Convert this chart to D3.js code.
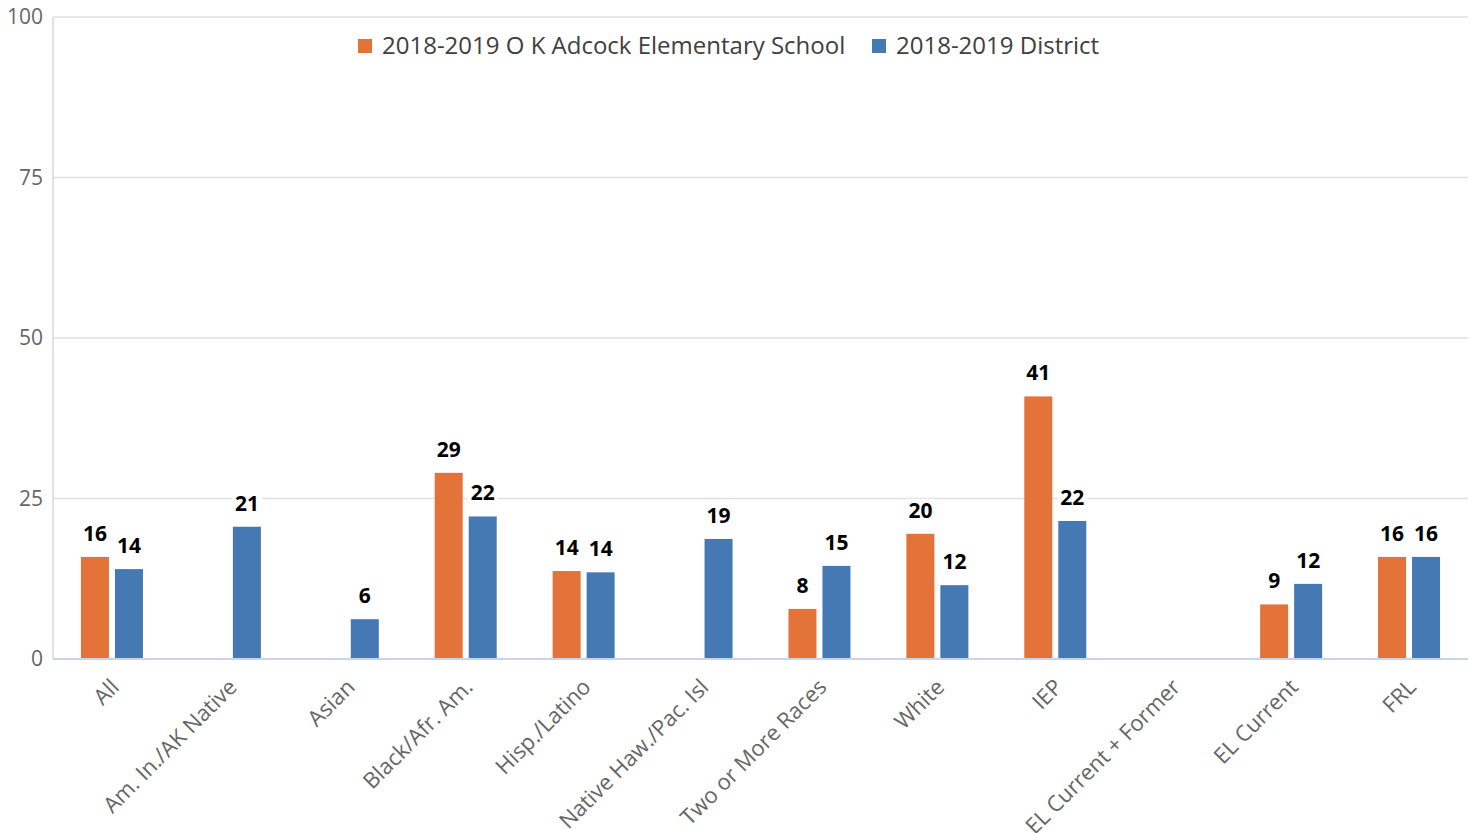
<!DOCTYPE html>
<html>
<head>
<meta charset="utf-8">
<script src="https://cdn.jsdelivr.net/npm/d3@7"></script>
<style>
  body { margin: 0; background: #fff; }
  svg { font-family: "Open Sans", sans-serif; }
</style>
</head>
<body>
<script>
// data
var categories = ['All', 'Am. In./AK Native', 'Asian', 'Black/Afr. Am.', 'Hisp./Latino',
	'Native Haw./Pac. Isl', 'Two or More Races', 'White', 'IEP', 'EL Current + Former',
	'EL Current', 'FRL'];
var schoolValues = [15.9, null, null, 29.0, 13.7, null, 7.8, 19.5, 40.9, null, 8.5, 15.9];
var districtValues = [14.0, 20.6, 6.2, 22.2, 13.5, 18.7, 14.5, 11.5, 21.5, null, 11.7, 15.9];
var seriesNames = ['2018-2019 O K Adcock Elementary School', '2018-2019 District'];
var yTicks = [0, 25, 50, 75, 100];

var colors = ['#E4733A', '#4479B3'];

// svg margin and size
var margin = {top: 17, right: 7, bottom: 174, left: 53};
var width = 1475 - margin.left - margin.right,
	height = 833 - margin.top - margin.bottom;

var svg = d3.select('body').append('svg')
		.attr('width', 1475)
		.attr('height', 833)
	.append('g')
		.attr('transform', 'translate(' + margin.left + ',' + margin.top + ')');

var x = d3.scaleBand().domain(categories).range([0, width]);
var y = d3.scaleLinear().domain([0, 100]).range([height, 0]);

var barW = 28, gap = 6;

// gridlines
svg.selectAll('.grid')
	.data(yTicks.filter(function(d) { return d > 0; }))
	.enter().append('line')
	.attr('x1', 0).attr('x2', width)
	.attr('y1', function(d) { return y(d); })
	.attr('y2', function(d) { return y(d); })
	.style('stroke', '#e0e0e0')
	.style('stroke-width', 1.5);

// left axis line
svg.append('line')
	.attr('x1', 0).attr('x2', 0)
	.attr('y1', 0).attr('y2', height)
	.style('stroke', '#d9d9d9')
	.style('stroke-width', 1.5);

// y tick labels
svg.selectAll('.ytick')
	.data(yTicks)
	.enter().append('text')
	.attr('x', -10)
	.attr('y', function(d) { return y(d); })
	.attr('dy', '0.35em')
	.attr('text-anchor', 'end')
	.style('font-size', '21px')
	.style('fill', '#666')
	.text(function(d) { return d; });

// bars
var series = [schoolValues, districtValues];
var barData = [];
series.forEach(function(vals, s) {
	vals.forEach(function(v, i) {
		if (v === null) return;
		barData.push({cat: categories[i], s: s, v: v});
	});
});

function barX(d) {
	var c = x(d.cat) + x.bandwidth() / 2;
	return d.s === 0 ? c - gap / 2 - barW : c + gap / 2;
}

svg.selectAll('.bar')
	.data(barData)
	.enter().append('rect')
	.attr('class', 'bar')
	.attr('x', barX)
	.attr('width', barW)
	.attr('y', function(d) { return y(d.v); })
	.attr('height', function(d) { return height - y(d.v); })
	.style('fill', function(d) { return colors[d.s]; });

// x axis line
svg.append('line')
	.attr('x1', 0).attr('x2', width)
	.attr('y1', height).attr('y2', height)
	.style('stroke', '#c9d4e8')
	.style('stroke-width', 2);

// data labels with white background
var lbl = svg.selectAll('.lbl')
	.data(barData)
	.enter().append('g')
	.attr('transform', function(d) {
		return 'translate(' + (barX(d) + barW / 2) + ',' + (y(d.v) - 16) + ')';
	});

lbl.append('rect')
	.attr('x', -15).attr('y', -19)
	.attr('width', 30).attr('height', 23)
	.style('fill', '#fff');

lbl.append('text')
	.attr('text-anchor', 'middle')
	.style('font-size', '21px')
	.style('font-weight', 'bold')
	.style('fill', '#000')
	.text(function(d) { return Math.round(d.v); });

// x labels
svg.selectAll('.xlabel')
	.data(categories)
	.enter().append('text')
	.attr('transform', function(d) {
		return 'translate(' + (x(d) + x.bandwidth() / 2 + 3) + ',' + (height + 24) + ') rotate(-45)';
	})
	.attr('text-anchor', 'end')
	.attr('dy', '0.35em')
	.style('font-size', '22px')
	.style('fill', '#666')
	.text(function(d) { return d; });

// legend
var legend = svg.append('g')
	.attr('transform', 'translate(' + (358 - margin.left) + ',' + (39 - margin.top) + ')');
var lx = [0, 514];
seriesNames.forEach(function(n, i) {
	legend.append('rect')
		.attr('x', lx[i]).attr('y', 0)
		.attr('width', 14).attr('height', 14)
		.style('fill', colors[i]);
	legend.append('text')
		.attr('x', lx[i] + 24).attr('y', 7)
		.attr('dy', '0.35em')
		.style('font-size', '24px')
		.style('fill', '#404040')
		.text(n);
});
</script>
</body>
</html>
